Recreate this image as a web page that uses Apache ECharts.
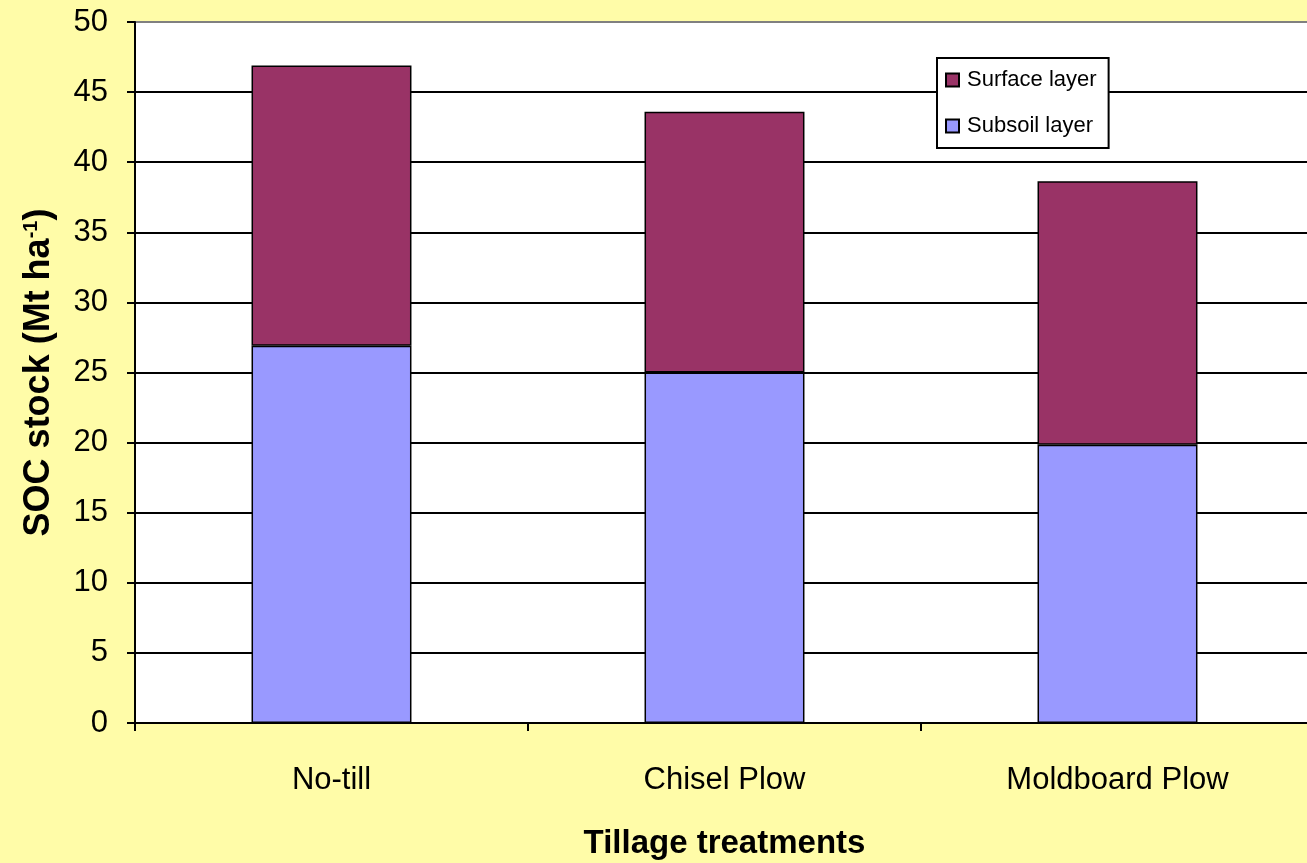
<!DOCTYPE html>
<html>
<head>
<meta charset="utf-8">
<script src="https://cdn.jsdelivr.net/npm/echarts@6/dist/echarts.min.js"></script>
<style>html,body{margin:0;padding:0;background:#FFFCA8;}#c{width:1307px;height:863px;}</style>
</head>
<body>
<div id="c"></div>
<script>
const categories = ['No-till', 'Chisel Plow', 'Moldboard Plow'];
const subsoil = [26.9, 25.0, 19.85];
const surface = [20.0, 18.6, 18.8];
const yTicks = { min: 0, max: 50, interval: 5 };
const seriesNames = ['Surface layer', 'Subsoil layer'];

const chart = echarts.init(document.getElementById('c'));
const font = 'Liberation Sans, Arial, sans-serif';
const splitColors = [];
for (let i = 0; i < 10; i++) splitColors.push('#000');
splitColors.push('#808080');

chart.setOption({
  backgroundColor: '#FFFCA8',
  animation: false,
  grid: { left: 135, top: 22, bottom: 140, right: -7, outerBoundsMode: 'none', containLabel: false,
          show: true, backgroundColor: '#fff', borderColor: '#808080', borderWidth: 2 },
  legend: {
    orient: 'vertical', left: 937, top: 58,
    data: seriesNames,
    backgroundColor: '#fff', borderColor: '#000', borderWidth: 2,
    padding: [11, 12, 11, 8],
    itemWidth: 13, itemHeight: 13, itemGap: 24,
    icon: 'rect',
    textStyle: { fontFamily: font, fontSize: 22, color: '#000', padding: [0, 0, 0, 3] }
  },
  xAxis: {
    type: 'category', data: categories,
    axisLine: { lineStyle: { color: '#000', width: 2 } },
    axisTick: { show: true, length: 8, lineStyle: { color: '#000', width: 2 } },
    axisLabel: { fontFamily: font, fontSize: 31, color: '#000', margin: 42 },
    name: 'Tillage treatments', nameLocation: 'middle', nameGap: 104,
    nameTextStyle: { fontFamily: font, fontSize: 33, fontWeight: 'bold', color: '#000' }
  },
  yAxis: {
    type: 'value', min: yTicks.min, max: yTicks.max, interval: yTicks.interval,
    axisLine: { show: true, lineStyle: { color: '#000', width: 2 } },
    axisTick: { show: true, length: 8, lineStyle: { color: '#000', width: 2 } },
    axisLabel: { fontFamily: font, fontSize: 31, color: '#000', margin: 27 },
    splitLine: { show: true, lineStyle: { color: splitColors, width: 2 } },
    name: 'SOC stock (Mt ha{sup|-1})', nameLocation: 'middle', nameGap: 78,
    nameTextStyle: {
      fontFamily: font, fontSize: 36, fontWeight: 'bold', color: '#000',
      rich: { sup: { fontFamily: font, fontSize: 20, fontWeight: 'bold', verticalAlign: 'top', padding: [0, 0, 16, 0] } }
    }
  },
  series: [
    { name: 'Subsoil layer', type: 'bar', stack: 's', data: subsoil, barWidth: '40.7%',
      itemStyle: { color: '#9999FF', borderColor: '#000', borderWidth: 1.5 } },
    { name: 'Surface layer', type: 'bar', stack: 's', data: surface, barWidth: '40.7%',
      itemStyle: { color: '#993366', borderColor: '#000', borderWidth: 1.5 } }
  ]
});
</script>
</body>
</html>
